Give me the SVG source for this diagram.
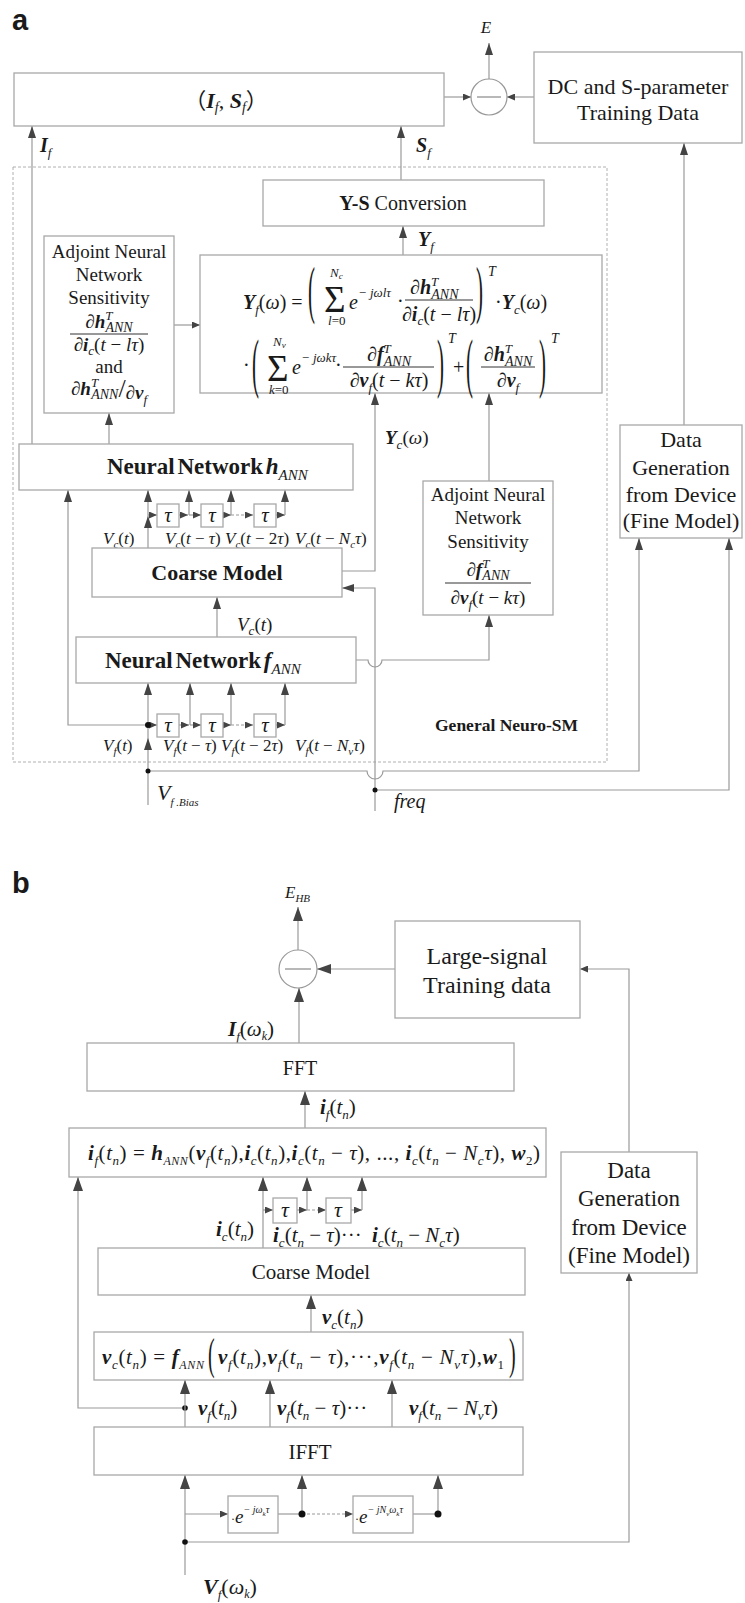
<svg xmlns="http://www.w3.org/2000/svg" width="745" height="1603" viewBox="0 0 745 1603">
<style>
text{font-family:"Liberation Serif","Times New Roman","Noto Sans CJK SC",serif;fill:#1a1a1a}
.bx{fill:#fff;stroke:#a8a8a8;stroke-width:1.3}
.ln{fill:none;stroke:#9a9a9a;stroke-width:1.2}
.ds{fill:none;stroke:#9a9a9a;stroke-width:1.2;stroke-dasharray:3 2}
.dash{fill:none;stroke:#b0b0b0;stroke-width:1;stroke-dasharray:3 2}
.bar{stroke:#333;stroke-width:1}
.i{font-style:italic}
.u{font-style:normal}
.b{font-weight:bold}
.bi{font-weight:bold;font-style:italic}
.s{font-size:13px}
.dot{fill:#111}
.lab{font-family:"Liberation Sans",Arial,sans-serif;font-weight:bold;font-size:29px}
.a1{marker-end:url(#ah)}
.a2{marker-end:url(#as)}
.a3{marker-end:url(#ab)}
</style>
<defs>
<marker id="ah" markerWidth="12" markerHeight="8" refX="12" refY="4" orient="auto" markerUnits="userSpaceOnUse"><path d="M0,0L12,4L0,8z" fill="#444"/></marker>
<marker id="as" markerWidth="8" markerHeight="7" refX="8" refY="3.5" orient="auto" markerUnits="userSpaceOnUse"><path d="M0,0L8,3.5L0,7z" fill="#444"/></marker>
<marker id="ab" markerWidth="14" markerHeight="10" refX="14" refY="5" orient="auto" markerUnits="userSpaceOnUse"><path d="M0,0L14,5L0,10z" fill="#444"/></marker>
</defs>
<rect width="745" height="1603" fill="#fff"/>

<text class="lab" x="12" y="30">a</text>
<text class="lab" x="12" y="893">b</text>

<!-- ===== Part a ===== -->
<rect class="dash" x="13" y="167" width="594" height="595"/>
<text x="435" y="731" class="b" font-size="17.5">General Neuro-SM</text>

<g id="connectors">
<!-- part a -->
<line class="ln a2" x1="444" y1="97" x2="471" y2="97"/>
<line class="ln a2" x1="534" y1="97" x2="507" y2="97"/>
<line class="ln a1" x1="489" y1="79" x2="489" y2="43"/>
<line class="ln a1" x1="32" y1="444" x2="32" y2="126"/>
<line class="ln a1" x1="401" y1="180" x2="401" y2="126"/>
<line class="ln a1" x1="403" y1="255" x2="403" y2="226"/>
<line class="ln a2" x1="174" y1="325" x2="200" y2="325"/>
<line class="ln a1" x1="109" y1="444" x2="109" y2="413"/>
<line class="ln a1" x1="684" y1="425" x2="684" y2="143"/>
<path class="ln a1" d="M342,571H375V393"/>
<line class="ln a1" x1="489" y1="481" x2="489" y2="393"/>
<path class="ln a1" d="M356,660H368A7,7 0 0 0 382,660H489V615"/>
<path class="ln a1" d="M375,811V588H342"/>
<line class="ln a1" x1="217" y1="637" x2="217" y2="597"/>
<!-- Vc delay chain -->
<line class="ln a1" x1="148" y1="548" x2="148" y2="516"/>
<line class="ln a1" x1="148" y1="516" x2="148" y2="490"/>
<line class="ln a2" x1="148" y1="515" x2="157" y2="515"/>
<line class="ln a2" x1="179" y1="515" x2="188" y2="515"/>
<line class="ln a2" x1="189" y1="515" x2="201" y2="515"/>
<line class="ln a1" x1="189" y1="515" x2="189" y2="490"/>
<line class="ln a2" x1="222" y1="515" x2="231" y2="515"/>
<line class="ds a2" x1="231" y1="515" x2="253" y2="515"/>
<line class="ln a1" x1="231" y1="515" x2="231" y2="490"/>
<line class="ln a2" x1="276" y1="515" x2="285" y2="515"/>
<line class="ln a1" x1="285" y1="515" x2="285" y2="490"/>
<!-- Vf delay chain -->
<path class="ln a1" d="M148,725H68V490"/>
<line class="ln a1" x1="148" y1="805" x2="148" y2="738"/>
<line class="ln" x1="148" y1="738" x2="148" y2="725"/>
<line class="ln a1" x1="148" y1="725" x2="148" y2="683"/>
<line class="ln a2" x1="148" y1="725" x2="157" y2="725"/>
<line class="ln a2" x1="179" y1="725" x2="189" y2="725"/>
<line class="ln a2" x1="190" y1="725" x2="201" y2="725"/>
<line class="ln a1" x1="190" y1="725" x2="190" y2="683"/>
<line class="ln a2" x1="222" y1="725" x2="231" y2="725"/>
<line class="ds a2" x1="231" y1="725" x2="253" y2="725"/>
<line class="ln a1" x1="231" y1="725" x2="231" y2="683"/>
<line class="ln a2" x1="276" y1="725" x2="285" y2="725"/>
<line class="ln a1" x1="285" y1="725" x2="285" y2="683"/>
<circle class="dot" cx="148" cy="725" r="3"/>
<path class="ln a1" d="M148,771H367A8,8 0 0 0 383,771H639V538"/>
<circle class="dot" cx="148" cy="771" r="2.5"/>
<path class="ln a1" d="M375,790H729V538"/>
<circle class="dot" cx="375" cy="790" r="2.5"/>

<!-- part b -->
<line class="ln a3" x1="298" y1="950" x2="298" y2="907"/>
<line class="ln a3" x1="395" y1="969" x2="317" y2="969"/>
<path class="ln a2" d="M629,1152V969H580"/>
<line class="ln a3" x1="299" y1="1043" x2="299" y2="988"/>
<line class="ln a3" x1="305" y1="1128" x2="305" y2="1091"/>
<path class="ln a3" d="M185,1408H78V1177"/>
<circle class="dot" cx="185" cy="1408" r="2.8"/>
<line class="ln a3" x1="263" y1="1248" x2="263" y2="1177"/>
<line class="ln a2" x1="263" y1="1210" x2="273" y2="1210"/>
<line class="ln a2" x1="297" y1="1210" x2="307" y2="1210"/>
<line class="ln a3" x1="307" y1="1210" x2="307" y2="1177"/>
<line class="ds a2" x1="307" y1="1210" x2="326" y2="1210"/>
<line class="ln a2" x1="351" y1="1210" x2="362" y2="1210"/>
<line class="ln a3" x1="362" y1="1210" x2="362" y2="1177"/>
<line class="ln a3" x1="311" y1="1332" x2="311" y2="1295"/>
<line class="ln a3" x1="185" y1="1427" x2="185" y2="1380"/>
<line class="ln a3" x1="270" y1="1427" x2="270" y2="1380"/>
<line class="ln a3" x1="392" y1="1430" x2="392" y2="1380"/>
<line class="ln a3" x1="185" y1="1575" x2="185" y2="1475"/>
<line class="ln a2" x1="185" y1="1514" x2="228" y2="1514"/>
<line class="ln" x1="278" y1="1514" x2="302" y2="1514"/>
<line class="ds a2" x1="302" y1="1514" x2="353" y2="1514"/>
<line class="ln" x1="413" y1="1514" x2="438" y2="1514"/>
<line class="ln a3" x1="302" y1="1514" x2="302" y2="1475"/>
<line class="ln a3" x1="438" y1="1514" x2="438" y2="1475"/>
<circle class="dot" cx="302" cy="1514" r="3.5"/>
<circle class="dot" cx="438" cy="1514" r="3.5"/>
<path class="ln a2" d="M185,1542H629V1273"/>
<circle class="dot" cx="185" cy="1542" r="2.8"/>
</g>

<!-- connector labels part a -->
<g id="labels-a">
<text x="486" y="33" font-size="17" class="i" text-anchor="middle">E</text>
<text x="40" y="152" font-size="20"><tspan class="bi">I</tspan><tspan class="i s" dy="5">f</tspan></text>
<text x="416" y="152" font-size="20"><tspan class="bi">S</tspan><tspan class="i s" dy="5">f</tspan></text>
<text x="418" y="246" font-size="20"><tspan class="bi">Y</tspan><tspan class="i s" dy="5">f</tspan></text>
<text x="385" y="444" font-size="19"><tspan class="bi">Y</tspan><tspan class="i s" dy="5">c</tspan><tspan dy="-5">(</tspan><tspan class="i">ω</tspan>)</text>
<text x="237" y="631" font-size="19" class="i">V<tspan class="s" dy="4">c</tspan><tspan class="u" dy="-4">(</tspan>t<tspan class="u">)</tspan></text>
<text x="103" y="544" font-size="17" class="i">V<tspan font-size="11" dy="4">c</tspan><tspan class="u" dy="-4">(</tspan>t<tspan class="u">)</tspan></text>
<text x="165" y="544" font-size="17" class="i">V<tspan font-size="11" dy="4">c</tspan><tspan class="u" dy="-4">(</tspan>t<tspan class="u"> − </tspan>τ<tspan class="u">)</tspan></text>
<text x="225" y="544" font-size="17" class="i">V<tspan font-size="11" dy="4">c</tspan><tspan class="u" dy="-4">(</tspan>t<tspan class="u"> − 2</tspan>τ<tspan class="u">)</tspan></text>
<text x="295" y="544" font-size="17" class="i">V<tspan font-size="11" dy="4">c</tspan><tspan class="u" dy="-4">(</tspan>t<tspan class="u"> − </tspan>N<tspan font-size="11" dy="4">c</tspan><tspan dy="-4">τ</tspan><tspan class="u">)</tspan></text>
<text x="103" y="751" font-size="17" class="i">V<tspan font-size="11" dy="4">f</tspan><tspan class="u" dy="-4">(</tspan>t<tspan class="u">)</tspan></text>
<text x="163" y="751" font-size="17" class="i">V<tspan font-size="11" dy="4">f</tspan><tspan class="u" dy="-4">(</tspan>t<tspan class="u"> − </tspan>τ<tspan class="u">)</tspan></text>
<text x="221" y="751" font-size="17" class="i">V<tspan font-size="11" dy="4">f</tspan><tspan class="u" dy="-4">(</tspan>t<tspan class="u"> − 2</tspan>τ<tspan class="u">)</tspan></text>
<text x="295" y="751" font-size="17" class="i">V<tspan font-size="11" dy="4">f</tspan><tspan class="u" dy="-4">(</tspan>t<tspan class="u"> − </tspan>N<tspan font-size="11" dy="4">v</tspan><tspan dy="-4">τ</tspan><tspan class="u">)</tspan></text>
<text x="157" y="800" font-size="22" class="i">V<tspan font-size="11" dy="6">f .Bias</tspan></text>
<text x="394" y="808" font-size="20" class="i">freq</text>
</g>

<g id="node-if-sf">
<rect class="bx" x="14" y="73" width="430" height="53"/>
<text x="226" y="108" font-size="22" text-anchor="middle">（<tspan class="bi">I</tspan><tspan class="i" font-size="14" dy="4">f</tspan><tspan dy="-4">, </tspan><tspan class="bi">S</tspan><tspan class="i" font-size="14" dy="4">f</tspan><tspan dy="-4">）</tspan></text>
</g>
<g id="node-sub-a">
<circle cx="489" cy="97" r="18" fill="#fff" stroke="#999" stroke-width="1.2"/>
<line x1="477" y1="97" x2="501" y2="97" stroke="#888" stroke-width="1.2"/>
</g>
<g id="node-dc">
<rect class="bx" x="534" y="52" width="208" height="91"/>
<text x="638" y="94" font-size="22" text-anchor="middle">DC and S-parameter</text>
<text x="638" y="120" font-size="22" text-anchor="middle">Training Data</text>
</g>
<g id="node-ys">
<rect class="bx" x="263" y="180" width="281" height="46"/>
<text x="403" y="210" font-size="20" text-anchor="middle"><tspan class="b">Y-S</tspan> Conversion</text>
</g>
<g id="node-formula-a">
<rect class="bx" x="200" y="255" width="402" height="138"/>
<text x="243" y="309" font-size="20"><tspan class="bi">Y</tspan><tspan class="i s" dy="5">f</tspan><tspan dy="-5">(</tspan><tspan class="i">ω</tspan><tspan>) =</tspan></text>
<text transform="translate(308,310.5) scale(1,3.05)" font-size="21">(</text>
<text class="i" font-size="13"><tspan x="330" y="277">N</tspan><tspan font-size="9" dy="2">c</tspan><tspan class="u" x="324" y="312" font-size="37">Σ</tspan><tspan x="328" y="325">l</tspan><tspan class="u">=0</tspan></text>
<text x="349" y="309" font-size="20" class="i">e<tspan font-size="13" dy="-12">− jωlτ</tspan></text>
<text x="397" y="308" font-size="20">·</text>
<text x="410" y="294" font-size="20">∂<tspan class="bi">h</tspan><tspan class="i" font-size="13" dy="-8">T</tspan><tspan class="i" font-size="14" dx="-7" dy="13">ANN</tspan></text>
<line class="bar" x1="405" y1="300" x2="473" y2="300"/>
<text x="439" y="321" font-size="20" text-anchor="middle">∂<tspan class="bi">i</tspan><tspan class="i s" dy="4">c</tspan><tspan dy="-4">(</tspan><tspan class="i">t</tspan> − <tspan class="i">lτ</tspan>)</text>
<text transform="translate(476,310.5) scale(1,3.05)" font-size="21">)</text>
<text x="488" y="276" font-size="14" class="i">T</text>
<text x="495" y="309" font-size="20">·<tspan class="bi">Y</tspan><tspan class="i s" dy="5">c</tspan><tspan dy="-5">(</tspan><tspan class="i">ω</tspan>)</text>

<text x="243" y="372" font-size="20">·</text>
<text transform="translate(252,385) scale(1,3.15)" font-size="21">(</text>
<text class="i" font-size="13"><tspan x="273" y="346">N</tspan><tspan font-size="9" dy="2">v</tspan><tspan class="u" x="267" y="381" font-size="37">Σ</tspan><tspan x="269" y="394">k</tspan><tspan class="u">=0</tspan></text>
<text x="292" y="374" font-size="20" class="i">e<tspan font-size="13" dy="-12">− jωkτ</tspan></text>
<text x="335" y="372" font-size="20">·</text>
<text x="389" y="361" font-size="20" text-anchor="middle">∂<tspan class="bi">f</tspan><tspan class="i" font-size="13" dy="-8">T</tspan><tspan class="i" font-size="14" dx="-7" dy="13">ANN</tspan></text>
<line class="bar" x1="343" y1="367" x2="434" y2="367"/>
<text x="389" y="387" font-size="20" text-anchor="middle">∂<tspan class="bi">v</tspan><tspan class="i s" dy="5">f</tspan><tspan dy="-5">(</tspan><tspan class="i">t</tspan> − <tspan class="i">kτ</tspan>)</text>
<text transform="translate(437,385) scale(1,3.15)" font-size="21">)</text>
<text x="448" y="343" font-size="14" class="i">T</text>
<text x="453" y="374" font-size="20">+</text>
<text transform="translate(466,385) scale(1,3.15)" font-size="21">(</text>
<text x="508" y="361" font-size="20" text-anchor="middle">∂<tspan class="bi">h</tspan><tspan class="i" font-size="13" dy="-8">T</tspan><tspan class="i" font-size="14" dx="-7" dy="13">ANN</tspan></text>
<line class="bar" x1="481" y1="367" x2="535" y2="367"/>
<text x="508" y="387" font-size="20" text-anchor="middle">∂<tspan class="bi">v</tspan><tspan class="i s" dy="5">f</tspan></text>
<text transform="translate(539,385) scale(1,3.15)" font-size="21">)</text>
<text x="551" y="343" font-size="14" class="i">T</text>
</g>
<g id="node-adjoint-h">
<rect class="bx" x="44" y="236" width="130" height="177"/>
<text x="109" y="258" font-size="19" text-anchor="middle">Adjoint Neural</text>
<text x="109" y="281" font-size="19" text-anchor="middle">Network</text>
<text x="109" y="304" font-size="19" text-anchor="middle">Sensitivity</text>
<text x="109" y="328" font-size="19" text-anchor="middle">∂<tspan class="bi">h</tspan><tspan class="i" font-size="13" dy="-8">T</tspan><tspan class="i" font-size="14" dx="-7" dy="12">ANN</tspan></text>
<line class="bar" x1="70" y1="334" x2="148" y2="334"/>
<text x="109" y="351" font-size="19" text-anchor="middle">∂<tspan class="bi">i</tspan><tspan class="i s" dy="4">c</tspan><tspan dy="-4">(</tspan><tspan class="i">t</tspan> − <tspan class="i">lτ</tspan>)</text>
<text x="109" y="373" font-size="19" text-anchor="middle">and</text>
<text x="109" y="395" font-size="19" text-anchor="middle">∂<tspan class="bi">h</tspan><tspan class="i" font-size="13" dy="-8">T</tspan><tspan class="i" font-size="14" dx="-7" dy="12">ANN</tspan><tspan font-size="26" dy="-2">/</tspan><tspan dy="2">∂</tspan><tspan class="bi">v</tspan><tspan class="i s" dy="5">f</tspan></text>
</g>
<g id="node-h-ann">
<rect class="bx" x="19" y="444" width="334" height="46"/>
<text x="107" y="474" font-size="23" class="b" word-spacing="-3">Neural Network <tspan class="bi">h</tspan><tspan class="i" font-weight="normal" font-size="15" dy="6">ANN</tspan></text>
</g>
<g id="node-tau-c">
<rect class="bx" x="157" y="504" width="22" height="23"/>
<rect class="bx" x="201" y="504" width="22" height="23"/>
<rect class="bx" x="254" y="504" width="22" height="23"/>
<text x="168" y="522" font-size="21" class="i" text-anchor="middle">τ</text>
<text x="212" y="522" font-size="21" class="i" text-anchor="middle">τ</text>
<text x="265" y="522" font-size="21" class="i" text-anchor="middle">τ</text>
</g>
<g id="node-coarse-a">
<rect class="bx" x="92" y="548" width="250" height="49"/>
<text x="217" y="580" font-size="22" class="b" text-anchor="middle">Coarse Model</text>
</g>
<g id="node-f-ann">
<rect class="bx" x="76" y="637" width="280" height="46"/>
<text x="105" y="668" font-size="23" class="b" word-spacing="-3">Neural Network <tspan class="bi">f</tspan><tspan class="i" font-weight="normal" font-size="15" dy="6">ANN</tspan></text>
</g>
<g id="node-tau-f">
<rect class="bx" x="157" y="714" width="22" height="23"/>
<rect class="bx" x="201" y="714" width="22" height="23"/>
<rect class="bx" x="254" y="714" width="22" height="23"/>
<text x="168" y="732" font-size="21" class="i" text-anchor="middle">τ</text>
<text x="212" y="732" font-size="21" class="i" text-anchor="middle">τ</text>
<text x="265" y="732" font-size="21" class="i" text-anchor="middle">τ</text>
</g>
<g id="node-adjoint-f">
<rect class="bx" x="423" y="481" width="130" height="134"/>
<text x="488" y="501" font-size="19" text-anchor="middle">Adjoint Neural</text>
<text x="488" y="524" font-size="19" text-anchor="middle">Network</text>
<text x="488" y="548" font-size="19" text-anchor="middle">Sensitivity</text>
<text x="488" y="576" font-size="19" text-anchor="middle">∂<tspan class="bi">f</tspan><tspan class="i" font-size="13" dy="-8">T</tspan><tspan class="i" font-size="14" dx="-7" dy="12">ANN</tspan></text>
<line class="bar" x1="445" y1="583" x2="531" y2="583"/>
<text x="488" y="604" font-size="19" text-anchor="middle">∂<tspan class="bi">v</tspan><tspan class="i s" dy="5">f</tspan><tspan dy="-5">(</tspan><tspan class="i">t</tspan> − <tspan class="i">kτ</tspan>)</text>
</g>
<g id="node-datagen-a">
<rect class="bx" x="620" y="425" width="122" height="113"/>
<text x="681" y="447" font-size="22" text-anchor="middle">Data</text>
<text x="681" y="475" font-size="22" text-anchor="middle">Generation</text>
<text x="681" y="502" font-size="22" text-anchor="middle">from Device</text>
<text x="681" y="528" font-size="22" text-anchor="middle">(Fine Model)</text>
</g>

<!-- ===== Part b ===== -->
<g id="labels-b">
<text x="285" y="898" font-size="17" class="i">E<tspan font-size="11" dy="4">HB</tspan></text>
<text x="228" y="1036" font-size="21"><tspan class="bi">I</tspan><tspan class="i s" dy="5">f</tspan><tspan dy="-5">(</tspan><tspan class="i">ω</tspan><tspan class="i" font-size="12" dy="4">k</tspan><tspan dy="-4">)</tspan></text>
<text x="320" y="1114" font-size="21"><tspan class="bi">i</tspan><tspan class="i s" dy="5">f</tspan><tspan dy="-5">(</tspan><tspan class="i">t</tspan><tspan class="i s" dy="5">n</tspan><tspan dy="-5">)</tspan></text>
<text x="216" y="1236" font-size="21"><tspan class="bi">i</tspan><tspan class="i s" dy="5">c</tspan><tspan dy="-5">(</tspan><tspan class="i">t</tspan><tspan class="i s" dy="5">n</tspan><tspan dy="-5">)</tspan></text>
<text x="273" y="1242" font-size="21"><tspan class="bi">i</tspan><tspan class="i s" dy="5">c</tspan><tspan dy="-5">(</tspan><tspan class="i">t</tspan><tspan class="i s" dy="5">n</tspan><tspan dy="-5"> − </tspan><tspan class="i">τ</tspan>)···</text>
<text x="372" y="1242" font-size="21"><tspan class="bi">i</tspan><tspan class="i s" dy="5">c</tspan><tspan dy="-5">(</tspan><tspan class="i">t</tspan><tspan class="i s" dy="5">n</tspan><tspan dy="-5"> − </tspan><tspan class="i">N</tspan><tspan class="i s" dy="5">c</tspan><tspan class="i" dy="-5">τ</tspan>)</text>
<text x="322" y="1324" font-size="21"><tspan class="bi">v</tspan><tspan class="i s" dy="5">c</tspan><tspan dy="-5">(</tspan><tspan class="i">t</tspan><tspan class="i s" dy="5">n</tspan><tspan dy="-5">)</tspan></text>
<text x="198" y="1415" font-size="21"><tspan class="bi">v</tspan><tspan class="i s" dy="5">f</tspan><tspan dy="-5">(</tspan><tspan class="i">t</tspan><tspan class="i s" dy="5">n</tspan><tspan dy="-5">)</tspan></text>
<text x="277" y="1415" font-size="21"><tspan class="bi">v</tspan><tspan class="i s" dy="5">f</tspan><tspan dy="-5">(</tspan><tspan class="i">t</tspan><tspan class="i s" dy="5">n</tspan><tspan dy="-5"> − </tspan><tspan class="i">τ</tspan>)···</text>
<text x="409" y="1415" font-size="21"><tspan class="bi">v</tspan><tspan class="i s" dy="5">f</tspan><tspan dy="-5">(</tspan><tspan class="i">t</tspan><tspan class="i s" dy="5">n</tspan><tspan dy="-5"> − </tspan><tspan class="i">N</tspan><tspan class="i s" dy="5">v</tspan><tspan class="i" dy="-5">τ</tspan>)</text>
<text x="203" y="1594" font-size="22"><tspan class="bi">V</tspan><tspan class="i s" dy="5">f</tspan><tspan dy="-5">(</tspan><tspan class="i">ω</tspan><tspan class="i" font-size="12" dy="4">k</tspan><tspan dy="-4">)</tspan></text>
</g>
<g id="node-sub-b">
<circle cx="298" cy="969" r="19" fill="#fff" stroke="#999" stroke-width="1.2"/>
<line x1="285" y1="969" x2="311" y2="969" stroke="#888" stroke-width="1.2"/>
</g>
<g id="node-large-signal">
<rect class="bx" x="395" y="921" width="185" height="97"/>
<text x="487" y="964" font-size="24" text-anchor="middle">Large-signal</text>
<text x="487" y="993" font-size="24" text-anchor="middle">Training data</text>
</g>
<g id="node-fft">
<rect class="bx" x="87" y="1043" width="427" height="48"/>
<text x="300" y="1075" font-size="20" text-anchor="middle">FFT</text>
</g>
<g id="node-h-formula">
<rect class="bx" x="69" y="1128" width="477" height="49"/>
<text x="88" y="1160" font-size="21" textLength="452" lengthAdjust="spacing"><tspan class="bi">i</tspan><tspan class="i s" dy="5">f</tspan><tspan dy="-5">(</tspan><tspan class="i">t</tspan><tspan class="i s" dy="5">n</tspan><tspan dy="-5">) = </tspan><tspan class="bi">h</tspan><tspan class="i" font-size="12" dy="5">ANN</tspan><tspan dy="-5">(</tspan><tspan class="bi">v</tspan><tspan class="i s" dy="5">f</tspan><tspan dy="-5">(</tspan><tspan class="i">t</tspan><tspan class="i s" dy="5">n</tspan><tspan dy="-5">),</tspan><tspan class="bi">i</tspan><tspan class="i s" dy="5">c</tspan><tspan dy="-5">(</tspan><tspan class="i">t</tspan><tspan class="i s" dy="5">n</tspan><tspan dy="-5">),</tspan><tspan class="bi">i</tspan><tspan class="i s" dy="5">c</tspan><tspan dy="-5">(</tspan><tspan class="i">t</tspan><tspan class="i s" dy="5">n</tspan><tspan dy="-5"> − </tspan><tspan class="i">τ</tspan><tspan>), ..., </tspan><tspan class="bi">i</tspan><tspan class="i s" dy="5">c</tspan><tspan dy="-5">(</tspan><tspan class="i">t</tspan><tspan class="i s" dy="5">n</tspan><tspan dy="-5"> − </tspan><tspan class="i">N</tspan><tspan class="i s" dy="5">c</tspan><tspan class="i" dy="-5">τ</tspan><tspan>), </tspan><tspan class="bi">w</tspan><tspan class="s" dy="5">2</tspan><tspan dy="-5">)</tspan></text>
</g>
<g id="node-tau-b">
<rect class="bx" x="273" y="1198" width="24" height="25"/>
<rect class="bx" x="326" y="1198" width="25" height="25"/>
<text x="285" y="1217" font-size="22" class="i" text-anchor="middle">τ</text>
<text x="338" y="1217" font-size="22" class="i" text-anchor="middle">τ</text>
</g>
<g id="node-coarse-b">
<rect class="bx" x="98" y="1248" width="427" height="47"/>
<text x="311" y="1279" font-size="21" text-anchor="middle">Coarse Model</text>
</g>
<g id="node-datagen-b">
<rect class="bx" x="561" y="1152" width="136" height="121"/>
<text x="629" y="1178" font-size="23" text-anchor="middle">Data</text>
<text x="629" y="1206" font-size="23" text-anchor="middle">Generation</text>
<text x="629" y="1235" font-size="23" text-anchor="middle">from Device</text>
<text x="629" y="1263" font-size="23" text-anchor="middle">(Fine Model)</text>
</g>
<g id="node-f-formula">
<rect class="bx" x="94" y="1332" width="429" height="48"/>
<text x="102" y="1364" font-size="21" textLength="102" lengthAdjust="spacing"><tspan class="bi">v</tspan><tspan class="i s" dy="5">c</tspan><tspan dy="-5">(</tspan><tspan class="i">t</tspan><tspan class="i s" dy="5">n</tspan><tspan dy="-5">) = </tspan><tspan class="bi">f</tspan><tspan class="i" font-size="12" dy="5">ANN</tspan></text>
<text transform="translate(208,1369) scale(1,2.2)" font-size="20">(</text>
<text x="218" y="1364" font-size="21" textLength="286" lengthAdjust="spacing"><tspan class="bi">v</tspan><tspan class="i s" dy="5">f</tspan><tspan dy="-5">(</tspan><tspan class="i">t</tspan><tspan class="i s" dy="5">n</tspan><tspan dy="-5">),</tspan><tspan class="bi">v</tspan><tspan class="i s" dy="5">f</tspan><tspan dy="-5">(</tspan><tspan class="i">t</tspan><tspan class="i s" dy="5">n</tspan><tspan dy="-5"> − </tspan><tspan class="i">τ</tspan><tspan>),···,</tspan><tspan class="bi">v</tspan><tspan class="i s" dy="5">f</tspan><tspan dy="-5">(</tspan><tspan class="i">t</tspan><tspan class="i s" dy="5">n</tspan><tspan dy="-5"> − </tspan><tspan class="i">N</tspan><tspan class="i s" dy="5">v</tspan><tspan class="i" dy="-5">τ</tspan><tspan>),</tspan><tspan class="bi">w</tspan><tspan class="s" dy="5">1</tspan></text>
<text transform="translate(509,1369) scale(1,2.2)" font-size="20">)</text>
</g>
<g id="node-ifft">
<rect class="bx" x="94" y="1427" width="429" height="48"/>
<text x="310" y="1459" font-size="21" text-anchor="middle">IFFT</text>
</g>
<g id="node-delay1">
<rect class="bx" x="228" y="1496" width="50" height="37"/>
<text x="231" y="1523" font-size="19"><tspan font-size="12">·</tspan><tspan class="i">e</tspan><tspan class="i" font-size="10" dy="-10">− jω</tspan><tspan class="i" font-size="7" dy="3">k</tspan><tspan class="i" font-size="10" dy="-3">τ</tspan></text>
</g>
<g id="node-delay2">
<rect class="bx" x="353" y="1496" width="60" height="37"/>
<text x="355" y="1523" font-size="19"><tspan font-size="12">·</tspan><tspan class="i">e</tspan><tspan class="i" font-size="10" dy="-10">− jN</tspan><tspan class="i" font-size="7" dy="3">v</tspan><tspan class="i" font-size="10" dy="-3">ω</tspan><tspan class="i" font-size="7" dy="3">k</tspan><tspan class="i" font-size="10" dy="-3">τ</tspan></text>
</g>
</svg>
